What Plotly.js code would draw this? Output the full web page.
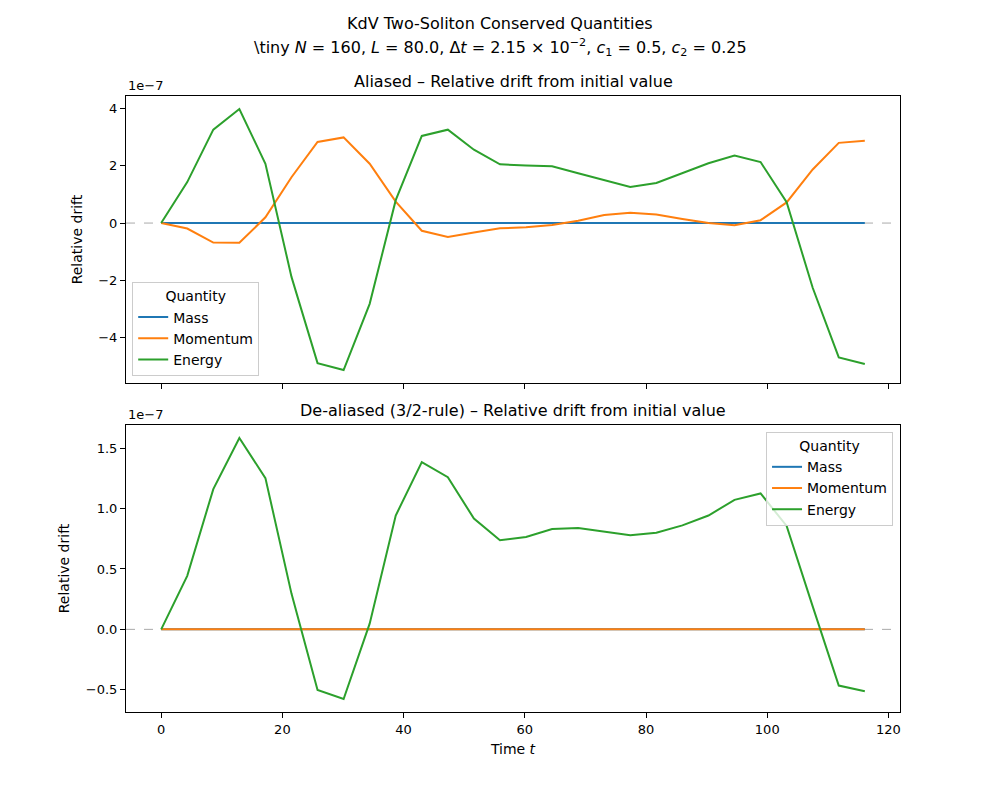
<!DOCTYPE html>
<html>
<head>
<meta charset="utf-8">
<script src="https://cdn.plot.ly/plotly-3.0.1.min.js"></script>
<style>
  html, body { margin: 0; padding: 0; background: #fff; }
  #chart { width: 1000px; height: 800px; }
</style>
</head>
<body>
<div id="chart"></div>
<script>
// Sample times (every 200 steps of dt = 2.15e-2)
const time = [0, 4.3, 8.6, 12.9, 17.2, 21.5, 25.8, 30.1, 34.4, 38.7, 43.0, 47.3, 51.6, 55.9,
              60.2, 64.5, 68.8, 73.1, 77.4, 81.7, 86.0, 90.3, 94.6, 98.9, 103.2, 107.5, 111.8, 116.1];

// Relative drift, in units of 1e-7
// Aliased run
const aliasedMass = [0, 0, 0, 0, 0, 0, 0, 0, 0, 0, 0, 0, 0, 0,
                     0, 0, 0, 0, 0, 0, 0, 0, 0, 0, 0, 0, 0, 0];
const aliasedMomentum = [0, -0.19, -0.68, -0.69, 0.20, 1.60, 2.83, 2.99, 2.07, 0.75, -0.27, -0.49, -0.33, -0.18,
                         -0.15, -0.07, 0.08, 0.28, 0.36, 0.30, 0.14, 0.00, -0.08, 0.10, 0.72, 1.87, 2.80, 2.87];
const aliasedEnergy = [0, 1.43, 3.26, 3.98, 2.07, -1.88, -4.89, -5.13, -2.82, 0.80, 3.04, 3.26, 2.56, 2.05,
                       2.01, 1.98, 1.74, 1.51, 1.26, 1.40, 1.74, 2.09, 2.36, 2.13, 0.73, -2.26, -4.69, -4.92];

// De-aliased (3/2-rule) run
const dealiasedMass = [0, 0, 0, 0, 0, 0, 0, 0, 0, 0, 0, 0, 0, 0,
                       0, 0, 0, 0, 0, 0, 0, 0, 0, 0, 0, 0, 0, 0];
const dealiasedMomentum = [0, 0, 0, 0, 0, 0, 0, 0, 0, 0, 0, 0, 0, 0,
                           0, 0, 0, 0, 0, 0, 0, 0, 0, 0, 0, 0, 0, 0];
const dealiasedEnergy = [0, 0.443, 1.161, 1.584, 1.252, 0.296, -0.501, -0.576, 0.047, 0.942, 1.385, 1.260, 0.917, 0.737,
                         0.765, 0.831, 0.839, 0.809, 0.778, 0.800, 0.861, 0.942, 1.072, 1.125, 0.856, 0.19, -0.465, -0.512];

const seriesNames = ['Mass', 'Momentum', 'Energy'];
const seriesColors = ['#1f77b4', '#ff7f0e', '#2ca02c'];

const topTickVals = [-4, -2, 0, 2, 4];
const topTickText = ['\u22124', '\u22122', '0', '2', '4'];
const botTickVals = [-0.5, 0, 0.5, 1.0, 1.5];
const botTickText = ['\u22120.5', '0.0', '0.5', '1.0', '1.5'];
const xTickVals = [0, 20, 40, 60, 80, 100, 120];

const FONT = 'DejaVu Sans, sans-serif';

function padRange(arrs) {
  const all = [].concat(...arrs);
  const lo = Math.min(...all), hi = Math.max(...all);
  const pad = 0.05 * (hi - lo);
  return [lo - pad, hi + pad];
}

const xRange = padRange([time]);
const topRange = padRange([aliasedMass, aliasedMomentum, aliasedEnergy]);
const botRange = padRange([dealiasedMass, dealiasedMomentum, dealiasedEnergy]);

const traces = [];
[aliasedMass, aliasedMomentum, aliasedEnergy].forEach((ys, i) => {
  traces.push({
    x: time, y: ys, type: 'scatter', mode: 'lines', name: seriesNames[i],
    line: { color: seriesColors[i], width: 2 },
    xaxis: 'x', yaxis: 'y', legend: 'legend'
  });
});
[dealiasedMass, dealiasedMomentum, dealiasedEnergy].forEach((ys, i) => {
  traces.push({
    x: time, y: ys, type: 'scatter', mode: 'lines', name: seriesNames[i],
    line: { color: seriesColors[i], width: 2 },
    xaxis: 'x2', yaxis: 'y2', legend: 'legend2'
  });
});

const axisCommon = {
  showline: true, mirror: true, linecolor: '#000', linewidth: 1,
  ticks: 'outside', ticklen: 5, tickwidth: 1, tickcolor: '#000',
  showgrid: false, zeroline: false,
  tickfont: { family: FONT, size: 13, color: '#000' }
};

const legendCommon = {
  bgcolor: 'rgba(255,255,255,0.8)', bordercolor: '#cccccc', borderwidth: 1,
  font: { family: FONT, size: 14, color: '#000' },
  title: { text: 'Quantity', side: 'top center', font: { family: FONT, size: 14, color: '#000' } },
  tracegroupgap: 0, itemwidth: 30
};

const layout = {
  width: 1000, height: 800,
  paper_bgcolor: '#fff', plot_bgcolor: '#fff',
  margin: { l: 126, r: 100, t: 96, b: 88 },
  font: { family: FONT, color: '#000' },
  xaxis: Object.assign({}, axisCommon, {
    domain: [0, 1], range: xRange, anchor: 'y', matches: 'x2',
    tickvals: xTickVals, showticklabels: false
  }),
  yaxis: Object.assign({}, axisCommon, {
    domain: [0.534, 1], range: topRange, anchor: 'x',
    tickvals: topTickVals, ticktext: topTickText,
    title: { text: 'Relative drift', font: { family: FONT, size: 14 }, standoff: 12 }
  }),
  xaxis2: Object.assign({}, axisCommon, {
    domain: [0, 1], range: xRange, anchor: 'y2',
    tickvals: xTickVals,
    title: { text: 'Time <i>t</i>', font: { family: FONT, size: 14 }, standoff: 8 }
  }),
  yaxis2: Object.assign({}, axisCommon, {
    domain: [0, 0.466], range: botRange, anchor: 'x2',
    tickvals: botTickVals, ticktext: botTickText,
    title: { text: 'Relative drift', font: { family: FONT, size: 14 }, standoff: 12 }
  }),
  legend: Object.assign({}, legendCommon, {
    x: 0.008, y: 0.545, xanchor: 'left', yanchor: 'bottom'
  }),
  legend2: Object.assign({}, legendCommon, {
    x: 0.991, y: 0.4545, xanchor: 'right', yanchor: 'top'
  }),
  shapes: [
    { type: 'line', xref: 'x domain', yref: 'y', x0: 0, x1: 1, y0: 0, y1: 0,
      line: { color: '#aaaaaa', width: 1, dash: 'dash' }, layer: 'below' },
    { type: 'line', xref: 'x2 domain', yref: 'y2', x0: 0, x1: 1, y0: 0, y1: 0,
      line: { color: '#aaaaaa', width: 1, dash: 'dash' }, layer: 'below' }
  ],
  annotations: [
    { text: 'KdV Two-Soliton Conserved Quantities', xref: 'paper', yref: 'paper',
      x: (500 - 126) / 774, y: (712 - 23) / 616, xanchor: 'center', yanchor: 'middle', showarrow: false,
      font: { family: FONT, size: 16, color: '#000' } },
    { text: '\\tiny <i>N</i> = 160, <i>L</i> = 80.0, \u0394<i>t</i> = 2.15 \u00d7 10<sup>\u22122</sup>, <i>c</i><sub>1</sub> = 0.5, <i>c</i><sub>2</sub> = 0.25',
      xref: 'paper', yref: 'paper',
      x: (500 - 126) / 774, y: (712 - 48) / 616, xanchor: 'center', yanchor: 'middle', showarrow: false,
      font: { family: FONT, size: 16, color: '#000' } },
    { text: 'Aliased \u2013 Relative drift from initial value', xref: 'paper', yref: 'paper',
      x: 0.5, y: 1, xanchor: 'center', yanchor: 'bottom', yshift: 3, showarrow: false,
      font: { family: FONT, size: 16, color: '#000' } },
    { text: 'De-aliased (3/2-rule) \u2013 Relative drift from initial value', xref: 'paper', yref: 'paper',
      x: 0.5, y: 0.466, xanchor: 'center', yanchor: 'bottom', yshift: 3, showarrow: false,
      font: { family: FONT, size: 16, color: '#000' } },
    { text: '1e\u22127', xref: 'paper', yref: 'paper', x: 0, y: 1,
      xanchor: 'left', yanchor: 'bottom', yshift: 1, showarrow: false,
      font: { family: FONT, size: 13, color: '#000' } },
    { text: '1e\u22127', xref: 'paper', yref: 'paper', x: 0, y: 0.466,
      xanchor: 'left', yanchor: 'bottom', yshift: 1, showarrow: false,
      font: { family: FONT, size: 13, color: '#000' } }
  ]
};

Plotly.newPlot('chart', traces, layout, { displayModeBar: false, staticPlot: true });
</script>
</body>
</html>
